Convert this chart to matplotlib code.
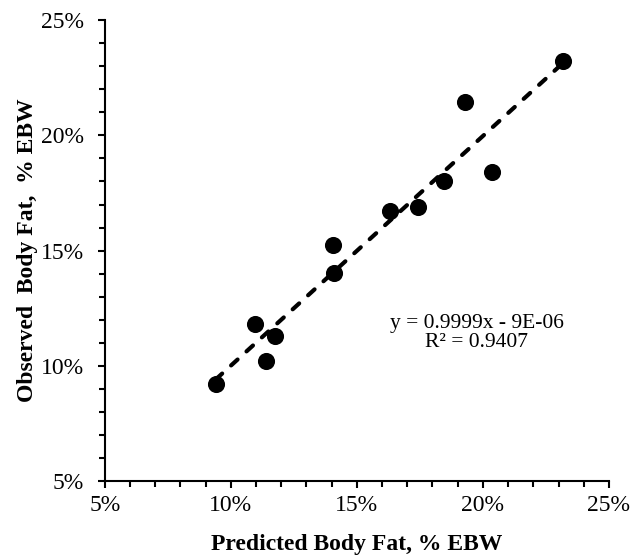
import numpy as np
import matplotlib
matplotlib.use("Agg")
import matplotlib.pyplot as plt
from matplotlib.ticker import MultipleLocator, FuncFormatter

# data (percent of empty body weight)
predicted = [9.40, 10.97, 11.76, 11.38, 14.06, 14.10, 16.33, 17.43, 18.45, 19.29, 20.37, 23.17]
observed = [9.21, 11.84, 11.32, 10.21, 15.24, 14.04, 16.73, 16.90, 18.02, 21.43, 18.42, 23.23]
eq_label = "y = 0.9999x - 9E-06\nR\u00b2 = 0.9407"

plt.rcParams["font.family"] = ["Liberation Serif", "DejaVu Serif"]

fig = plt.figure(figsize=(6.35, 5.57), dpi=100)
ax = fig.add_axes([0.165, 0.136, 0.794, 0.828])

# linear trend line over the data range
slope, intercept = np.polyfit(predicted, observed, 1)
xs = np.array([min(predicted), max(predicted)])
ax.plot(xs, slope * xs + intercept, color="black", linewidth=3.0,
        dashes=(2.1, 2.9), dash_capstyle="round", zorder=2)

ax.plot(predicted, observed, "o", color="black", markersize=11.3, zorder=3)

ax.text(19.76, 11.42, eq_label, ha="center", va="center", fontsize=15.5,
        linespacing=1.0)

ax.set_xlim(5, 25)
ax.set_ylim(5, 25)
ax.xaxis.set_major_locator(MultipleLocator(5))
ax.xaxis.set_minor_locator(MultipleLocator(1))
ax.yaxis.set_major_locator(MultipleLocator(5))
ax.yaxis.set_minor_locator(MultipleLocator(1))
pct = FuncFormatter(lambda v, p: f"{v:.0f}%")
ax.xaxis.set_major_formatter(pct)
ax.yaxis.set_major_formatter(pct)

for side in ("top", "right"):
    ax.spines[side].set_visible(False)
for side in ("left", "bottom"):
    ax.spines[side].set_linewidth(1.5)

ax.tick_params(which="both", direction="out", width=1.5, labelsize=17)
ax.tick_params(which="major", length=5)
ax.tick_params(which="minor", length=4.5)
ax.tick_params(axis="x", which="major", pad=5)
ax.tick_params(axis="y", which="major", pad=10)

ax.set_xlabel("Predicted Body Fat, % EBW", fontsize=17, fontweight="bold", labelpad=13)
ax.set_ylabel("Observed  Body Fat,  % EBW", fontsize=17, fontweight="bold", labelpad=2)

fig.savefig("out.png", dpi=100)
